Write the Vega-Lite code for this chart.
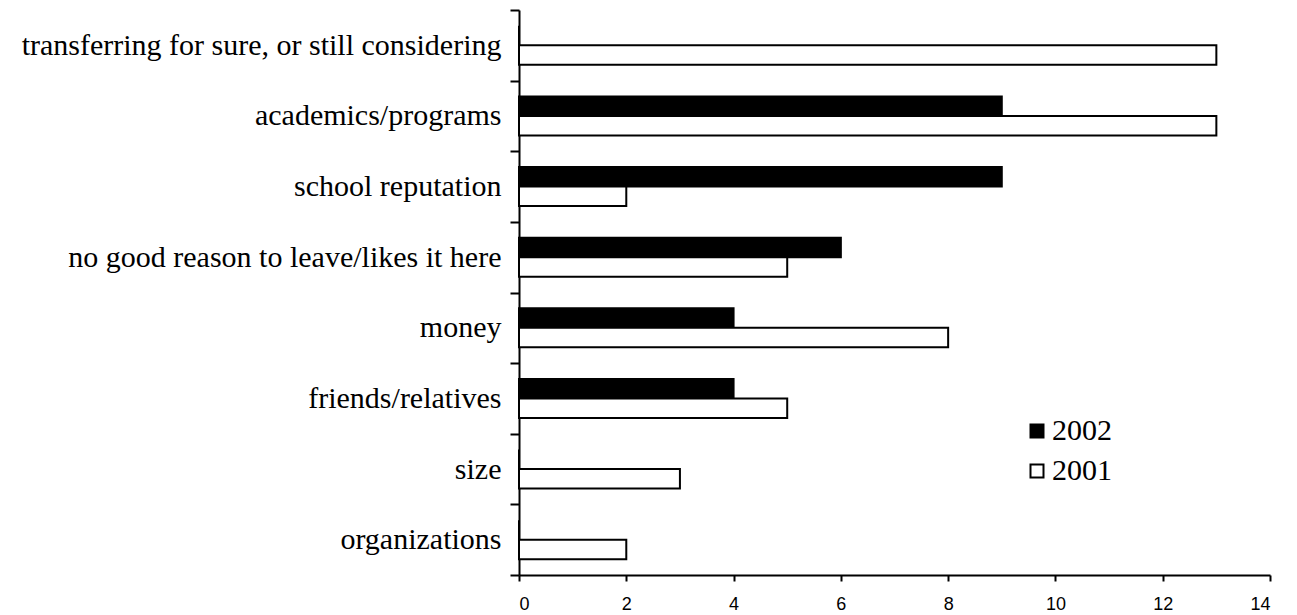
{
  "$schema": "https://vega.github.io/schema/vega-lite/v6.json",
  "autosize": {"type": "none"},
  "padding": {"left": 519, "top": 10, "right": 27, "bottom": 40},
  "width": 751,
  "height": 565,
  "background": "white",
  "config": {"view": {"stroke": null}},
  "data": {
    "values": [
      {"reason": "transferring for sure, or still considering", "year": "2002", "count": 0},
      {"reason": "transferring for sure, or still considering", "year": "2001", "count": 13},
      {"reason": "academics/programs", "year": "2002", "count": 9},
      {"reason": "academics/programs", "year": "2001", "count": 13},
      {"reason": "school reputation", "year": "2002", "count": 9},
      {"reason": "school reputation", "year": "2001", "count": 2},
      {"reason": "no good reason to leave/likes it here", "year": "2002", "count": 6},
      {"reason": "no good reason to leave/likes it here", "year": "2001", "count": 5},
      {"reason": "money", "year": "2002", "count": 4},
      {"reason": "money", "year": "2001", "count": 8},
      {"reason": "friends/relatives", "year": "2002", "count": 4},
      {"reason": "friends/relatives", "year": "2001", "count": 5},
      {"reason": "size", "year": "2002", "count": 0},
      {"reason": "size", "year": "2001", "count": 3},
      {"reason": "organizations", "year": "2002", "count": 0},
      {"reason": "organizations", "year": "2001", "count": 2}
    ]
  },
  "mark": {"type": "bar", "stroke": "black", "strokeWidth": 2},
  "encoding": {
    "y": {
      "field": "reason",
      "type": "nominal",
      "sort": null,
      "scale": {"paddingInner": 0, "paddingOuter": 0},
      "axis": {
        "title": null,
        "tickBand": "extent",
        "domainColor": "black",
        "domainWidth": 2,
        "tickColor": "black",
        "tickWidth": 2,
        "tickSize": 9,
        "labelFont": "Liberation Serif",
        "labelFontSize": 30,
        "labelColor": "black",
        "labelPadding": 9,
        "labelLimit": 0,
        "grid": false
      }
    },
    "yOffset": {
      "field": "year",
      "type": "nominal",
      "sort": ["2002", "2001"],
      "scale": {"paddingInner": 0, "paddingOuter": 0.81}
    },
    "x": {
      "field": "count",
      "type": "quantitative",
      "scale": {"domain": [0, 14], "nice": false},
      "axis": {
        "title": null,
        "values": [0, 2, 4, 6, 8, 10, 12, 14],
        "grid": false,
        "domainColor": "black",
        "domainWidth": 2,
        "tickColor": "black",
        "tickWidth": 2,
        "tickSize": 6,
        "labelFont": "Liberation Sans",
        "labelFontSize": 18,
        "labelColor": "black",
        "labelPadding": 14
      }
    },
    "fill": {
      "field": "year",
      "type": "nominal",
      "scale": {"domain": ["2002", "2001"], "range": ["black", "white"]},
      "legend": {
        "title": null,
        "orient": "none",
        "legendX": 503,
        "legendY": 406,
        "symbolType": "square",
        "symbolSize": 169,
        "symbolStrokeColor": "black",
        "symbolStrokeWidth": 2,
        "labelFont": "Liberation Serif",
        "labelFontSize": 30,
        "labelColor": "black",
        "labelOffset": 0,
        "rowPadding": 10
      }
    }
  }
}
